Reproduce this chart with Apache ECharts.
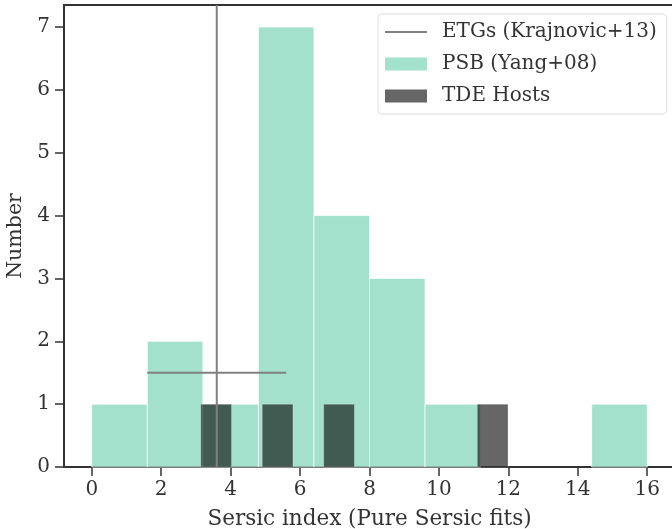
<!DOCTYPE html>
<html>
<head>
<meta charset="utf-8">
<script src="https://cdn.jsdelivr.net/npm/echarts@6/dist/echarts.min.js"></script>
<style>html,body{margin:0;padding:0;background:#fff;}#c{width:672px;height:529px;}</style>
</head>
<body>
<div id="c"></div>
<script>
// PSB (Yang+08) histogram
const psbEdges = [0, 1.6, 3.2, 4.8, 6.4, 8.0, 9.6, 11.2, 12.8, 14.4, 16.0];
const psbCounts = [1, 2, 1, 7, 4, 3, 1, 0, 0, 1];
// TDE Hosts histogram
const tdeEdges = [3.14, 4.025, 4.91, 5.795, 6.68, 7.565, 8.45, 9.335, 10.22, 11.105, 11.99];
const tdeCounts = [1, 0, 1, 0, 1, 0, 0, 0, 0, 1];
// ETGs (Krajnovic+13): mean and spread
const etgMean = 3.6;
const etgLow = 1.6;
const etgHigh = 5.6;
const etgLevel = 1.5;
// ticks
const xTicks = [0, 2, 4, 6, 8, 10, 12, 14, 16];
const yTicks = [0, 1, 2, 3, 4, 5, 6, 7];
const xRange = [-0.8, 16.8];
const yRange = [0, 7.35];

const FONT = "'DejaVu Serif', serif";
const TXT = '#333333';

function histData(edges, counts) {
  const out = [];
  for (let i = 0; i < counts.length; i++) {
    if (counts[i] > 0) out.push([edges[i], edges[i + 1], counts[i]]);
  }
  return out;
}

function makeRender(fill, stroke) {
  return function (params, api) {
    const p0 = api.coord([api.value(0), api.value(2)]);
    const p1 = api.coord([api.value(1), 0]);
    return {
      type: 'rect',
      shape: { x: p0[0], y: p0[1], width: p1[0] - p0[0], height: p1[1] - p0[1] },
      style: { fill: fill, stroke: stroke, lineWidth: 1 }
    };
  };
}

const chart = echarts.init(document.getElementById('c'), null, { renderer: 'canvas' });
chart.setOption({
  animation: false,
  backgroundColor: '#ffffff',
  textStyle: { fontFamily: FONT, color: TXT },
  grid: {
    left: 64, top: 5, width: 611, bottom: 62,
    containLabel: false, outerBoundsMode: 'none',
    show: true, borderColor: '#333333', borderWidth: 2, backgroundColor: 'transparent'
  },
  legend: {
    orient: 'vertical',
    left: 378, top: 14,
    padding: [7, 10, 7, 6],
    itemWidth: 42, itemHeight: 13, itemGap: 10,
    borderColor: '#dddddd', borderWidth: 1, borderRadius: 4,
    backgroundColor: 'rgba(255,255,255,0.8)',
    textStyle: { fontFamily: FONT, fontSize: 20, color: TXT, lineHeight: 22, padding: [0, 0, 0, 10] },
    data: [
      { name: 'ETGs (Krajnovic+13)', itemStyle: { color: 'rgba(0,0,0,0)', borderWidth: 0, opacity: 0 } },
      { name: 'PSB (Yang+08)', icon: 'rect' },
      { name: 'TDE Hosts', icon: 'rect' }
    ]
  },
  xAxis: {
    type: 'value', min: xRange[0], max: xRange[1],
    name: 'Sersic index (Pure Sersic fits)', nameLocation: 'middle', nameGap: 41,
    nameTextStyle: { fontFamily: FONT, fontSize: 21.5, color: TXT },
    splitLine: { show: false },
    axisLine: { show: true, onZero: false, lineStyle: { color: '#333333', width: 2 } },
    axisTick: { show: true, length: 9, lineStyle: { color: '#333333', width: 1.5 }, customValues: xTicks },
    axisLabel: { fontFamily: FONT, fontSize: 20, color: TXT, margin: 13, customValues: xTicks }
  },
  yAxis: {
    type: 'value', min: yRange[0], max: yRange[1],
    name: 'Number', nameLocation: 'middle', nameGap: 35, nameRotate: 90,
    nameTextStyle: { fontFamily: FONT, fontSize: 20.5, color: TXT },
    splitLine: { show: false },
    axisLine: { show: true, onZero: false, lineStyle: { color: '#333333', width: 2 } },
    axisTick: { show: true, length: 9, lineStyle: { color: '#333333', width: 1.5 }, customValues: yTicks },
    axisLabel: { fontFamily: FONT, fontSize: 20, color: TXT, margin: 14, customValues: yTicks }
  },
  series: [
    {
      name: 'PSB (Yang+08)', type: 'custom', z: 2,
      itemStyle: { color: 'rgba(102,205,170,0.6)' },
      renderItem: makeRender('rgba(102,205,170,0.6)', 'rgba(255,255,255,0.7)'),
      encode: { x: [0, 1], y: 2 },
      data: histData(psbEdges, psbCounts)
    },
    {
      name: 'TDE Hosts', type: 'custom', z: 3,
      itemStyle: { color: 'rgba(0,0,0,0.6)' },
      renderItem: makeRender('rgba(0,0,0,0.6)', 'rgba(255,255,255,0.25)'),
      encode: { x: [0, 1], y: 2 },
      data: histData(tdeEdges, tdeCounts)
    },
    {
      name: 'ETGs (Krajnovic+13)', type: 'line', z: 5,
      symbol: 'none', showSymbol: false,
      lineStyle: { color: '#808080', width: 2 },
      itemStyle: { color: '#808080' },
      data: [[etgMean, yRange[0]], [etgMean, yRange[1]]]
    },
    {
      name: 'ETG spread', type: 'line', z: 5,
      symbol: 'none', showSymbol: false,
      lineStyle: { color: '#808080', width: 2 },
      itemStyle: { color: '#808080' },
      data: [[etgLow, etgLevel], [etgHigh, etgLevel]]
    }
  ]
});
</script>
</body>
</html>
